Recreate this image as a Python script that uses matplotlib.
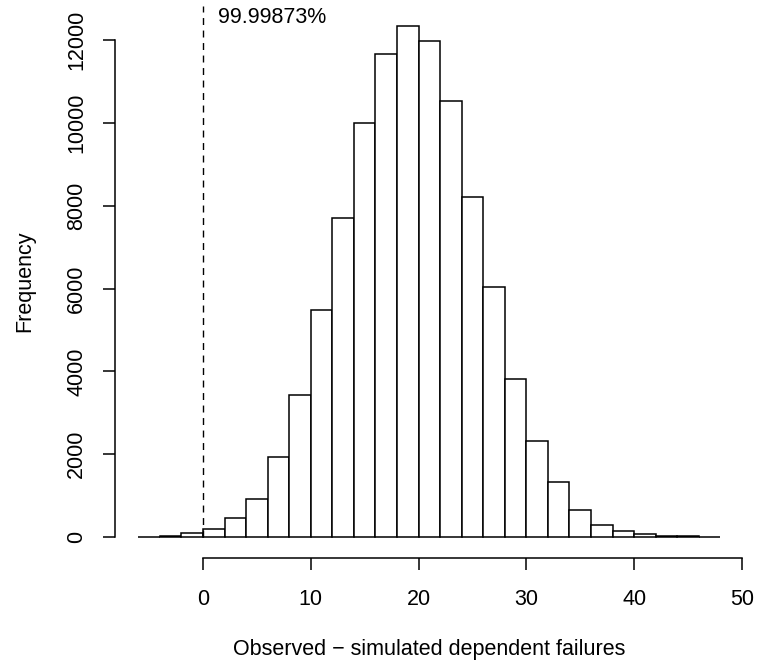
import matplotlib
matplotlib.use("Agg")
import matplotlib.pyplot as plt

# histogram bins (left edges, width 2) and counts
bin_left = [-6, -4, -2, 0, 2, 4, 6, 8, 10, 12, 14, 16, 18, 20,
            22, 24, 26, 28, 30, 32, 34, 36, 38, 40, 42, 44, 46]
counts = [10, 30, 95, 200, 450, 925, 1925, 3430, 5480, 7705, 10010, 11670,
          12335, 11975, 10540, 8215, 6040, 3820, 2310, 1340, 660, 285, 140,
          65, 30, 15, 8]
bin_width = 2
x_ticks = [0, 10, 20, 30, 40, 50]
y_ticks = [0, 2000, 4000, 6000, 8000, 10000, 12000]
observed_line = 0
note = "99.99873%"

plt.rcParams['font.family'] = ['Liberation Sans', 'DejaVu Sans']
fs = 15.5

fig = plt.figure(figsize=(7.58, 6.66), dpi=100)
W, H = 758, 666
left, right, top, bottom = 115, 743.7, 6, 557.5
ax = fig.add_axes([left / W, 1 - bottom / H, (right - left) / W, (bottom - top) / H])

ax.bar(bin_left, counts, width=bin_width, align='edge',
       facecolor='white', edgecolor='black', linewidth=1.1)

# R-style axis limits (4% padding)
xr = bin_left[-1] + bin_width - bin_left[0]
ax.set_xlim(bin_left[0] - 0.04 * xr, bin_left[-1] + bin_width + 0.04 * xr)
ymax = max(counts)
ax.set_ylim(-0.04 * ymax, 1.04 * ymax)

ax.plot([observed_line, observed_line], [0, 1.04 * ymax], color='black',
        linewidth=1.0, dashes=(5, 4))
ax.text(observed_line + 1.4, 12560, note, fontsize=fs, ha='left', va='center')

for s in ['top', 'right']:
    ax.spines[s].set_visible(False)
ax.spines['left'].set_bounds(y_ticks[0], y_ticks[-1])
ax.spines['bottom'].set_bounds(x_ticks[0], x_ticks[-1])
ax.spines['left'].set_linewidth(1.1)
ax.spines['bottom'].set_linewidth(1.1)

ax.set_xticks(x_ticks)
ax.set_yticks(y_ticks)
ax.tick_params(length=8.6, width=1.1, labelsize=fs)
ax.tick_params(axis='x', pad=14)
ax.tick_params(axis='y', pad=11.5)
for lbl in ax.get_yticklabels():
    lbl.set_rotation(90)
    lbl.set_va('center')

fig.text((left + right) / 2 / W, 1 - 650 / H,
         "Observed \u2212 simulated dependent failures",
         fontsize=fs, ha='center', va='center')
fig.text(25 / W, 1 - (top + bottom) / 2 / H, "Frequency",
         fontsize=fs, ha='center', va='center', rotation=90)

fig.savefig("out.png", dpi=100)
